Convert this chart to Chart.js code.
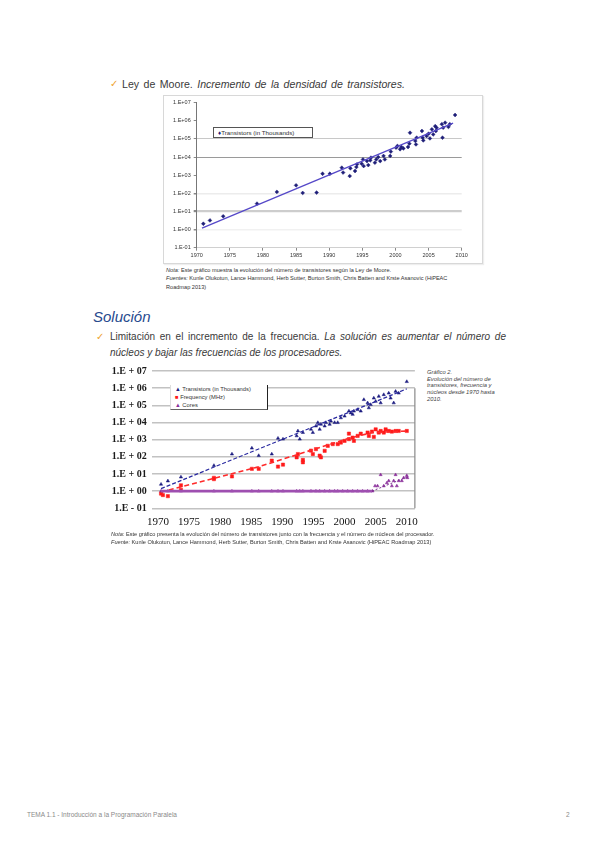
<!DOCTYPE html>
<html><head><meta charset="utf-8">
<script src="https://cdn.jsdelivr.net/npm/chart.js@4.4.1/dist/chart.umd.min.js"></script>
<style>
html,body{margin:0;padding:0;background:#fff;}
#page{position:relative;width:600px;height:848px;background:#fff;overflow:hidden;font-family:"Liberation Sans",Arial,sans-serif;color:#3a3a3a;}
.abs{position:absolute;white-space:nowrap;}
.chk{color:#eea22e;font-family:"DejaVu Sans",sans-serif;font-size:10px;font-weight:bold;}
.body{font-size:10px;}
.tiny{font-size:5.6px;line-height:8.4px;color:#333;}
canvas{position:absolute;}
</style></head>
<body><div id="page">
<div class="abs chk" style="left:110px;top:78px;">✓</div>
<div class="abs body" style="left:122px;top:78px;font-size:10.6px;width:283px;white-space:normal;text-align:justify;text-align-last:justify;">Ley de Moore. <i>Incremento de la densidad de transistores.</i></div>

<div class="abs" style="left:163px;top:95px;width:318px;height:167px;border:1px solid #d8d8d8;box-shadow:1px 1px 1px #eee;"></div>
<canvas id="c1" width="319" height="167" style="left:163px;top:95px;width:319px;height:167px;"></canvas>
<div class="abs" style="left:213px;top:127px;width:98px;height:9px;border:1px solid #555;background:#fff;font-size:6.2px;line-height:9px;color:#333;"><span style="color:#1e1e78;margin-left:4px;">♦</span>Transistors (in Thousands)</div>

<div class="abs tiny" style="left:166px;top:266px;"><i>Nota:</i> Este gráfico muestra la evolución del número de transistores según la Ley de Moore.<br><i>Fuentes:</i> Kunle Olukotun, Lance Hammond, Herb Sutter, Burton Smith, Chris Batten and Krste Asanovic (HiPEAC<br>Roadmap 2013)</div>

<div class="abs" style="left:93px;top:308px;font-size:15px;font-style:italic;color:#284a8e;">Solución</div>
<div class="abs chk" style="left:96px;top:331px;">✓</div>
<div class="abs body" style="left:110px;top:331px;width:396px;white-space:normal;text-align:justify;text-align-last:justify;">Limitación en el incremento de la frecuencia. <i>La solución es aumentar el número de</i></div>
<div class="abs body" style="left:110px;top:347px;"><i>núcleos y bajar las frecuencias de los procesadores.</i></div>

<canvas id="c2" width="325" height="172" style="left:100px;top:360px;width:325px;height:172px;"></canvas>
<div class="abs" style="left:170px;top:385px;width:96px;height:24px;border-right:1.5px solid #222;border-bottom:1px solid #666;border-left:1px solid #ddd;background:#fff;font-size:5.8px;line-height:8px;color:#333;">
<div style="margin-left:4px;"><span style="color:#1c1c80;">▲</span> Transistors (in Thousands)</div>
<div style="margin-left:4px;"><span style="color:#ff1a1a;">■</span> Frequency (MHz)</div>
<div style="margin-left:4px;"><span style="color:#8a2f9a;">▲</span> Cores</div>
</div>
<div class="abs" style="left:427px;top:369px;font-size:5.8px;line-height:6.7px;font-style:italic;color:#444;">Gráfico 2.<br>Evolución del número de<br>transistores, frecuencia y<br>núcleos desde 1970 hasta<br>2010.</div>

<div class="abs tiny" style="left:111px;top:530px;"><i>Nota:</i> Este gráfico presenta la evolución del número de transistores junto con la frecuencia y el número de núcleos del procesador.<br><i>Fuente:</i> Kunle Olukotun, Lance Hammond, Herb Sutter, Burton Smith, Chris Batten and Krste Asanovic (HiPEAC Roadmap 2013)</div>

<div class="abs" style="left:27px;top:811px;font-size:6.5px;color:#8a8a8a;">TEMA 1.1 - Introducción a la Programación Paralela</div>
<div class="abs" style="left:566px;top:811px;font-size:6.5px;color:#8a8a8a;">2</div>
</div>
<script>
// ---------- DATA ----------
const xTicks = [1970, 1975, 1980, 1985, 1990, 1995, 2000, 2005, 2010];
const xLabels = ['1970','1975','1980','1985','1990','1995','2000','2005','2010'];
const yTicks = [0.1, 1, 10, 100, 1e3, 1e4, 1e5, 1e6, 1e7];
const yLabels1 = ['1.E-01','1.E+00','1.E+01','1.E+02','1.E+03','1.E+04','1.E+05','1.E+06','1.E+07'];
const yLabels2 = ['1.E - 01','1.E + 00','1.E + 01','1.E + 02','1.E + 03','1.E + 04','1.E + 05','1.E + 06','1.E + 07'];

// Chart 1: transistors (thousands) [year, value]
const transistors1 = [
 [1971.0,2.1],[1972.0,3.2],[1974.0,5.4],[1979.1,27],[1982.1,120],[1985.0,275],[1986.0,105],[1988.1,110],
 [1989.0,1200],[1990.1,1200],[1991.9,2600],[1992.1,1400],[1993.1,900],[1993.2,2400],[1993.9,1700],[1994.1,2800],
 [1994.2,4000],[1994.9,4300],[1995.1,7400],[1995.2,3200],[1995.7,6000],[1995.9,3600],[1996.2,6600],[1996.3,9300],
 [1996.9,4900],[1997.1,7400],[1997.4,10000],[1997.7,6000],[1998.2,11500],[1998.4,7400],[1999.2,11500],[1999.3,20000],
 [2000.1,33000],[2000.3,41000],[2000.7,27000],[2000.9,36000],[2001.2,30000],[2001.9,36000],[2002.1,55000],[2002.2,220000],
 [2003.0,78000],[2003.1,50000],[2003.2,117000],[2004.0,275000],[2004.1,117000],[2004.2,83000],[2004.7,145000],[2005.0,195000],
 [2005.2,107000],[2005.5,340000],[2005.7,178000],[2006.0,510000],[2006.1,275000],[2006.2,417000],[2007.0,650000],[2007.1,117000],
 [2007.2,417000],[2007.5,790000],[2008.0,460000],[2008.2,650000],[2009.0,2100000]
];
const trend1 = [[1970.8,1.2],[2008.7,740000]];

// Chart 2
const transistors2 = [
 [1970.5,2.5],[1971.6,3.9],[1973.7,6.6],[1979.0,31],[1981.9,145],[1985.1,320],[1986.2,117],[1988.3,145],
 [1989.3,1200],[1990.1,1070],[1992.3,1660],[1992.5,3200],[1992.8,1070],[1993.3,2600],[1994.6,4000],[1994.9,2600],
 [1995.4,6200],[1995.7,9800],[1996.0,4000],[1996.2,7800],[1996.8,6200],[1997.0,9800],[1997.6,7800],[1997.8,12000],
 [1998.4,9800],[1998.9,9800],[1999.4,18600],[2000.0,23400],[2000.7,46000],[2001.0,36000],[2001.3,29500],[2001.5,46000],
 [2002.1,56000],[2002.6,46000],[2003.1,214000],[2003.7,138000],[2003.9,71000],[2004.2,110000],[2004.7,263000],[2005.0,170000],
 [2005.5,331000],[2005.8,138000],[2006.3,417000],[2007.1,513000],[2007.4,263000],[2007.9,138000],[2008.2,646000],[2008.7,513000],
 [2010.0,2400000]
];
const frequency2 = [
 [1970.5,0.72],[1970.8,0.59],[1971.6,0.51],[1973.7,2.2],[1973.7,1.2],[1979.0,6],[1979.0,5],[1981.9,7.2],
 [1985.1,20],[1986.2,20],[1988.3,60],[1989.3,27],[1990.1,35],[1992.3,93],[1992.5,145],[1993.3,66],
 [1993.3,48],[1994.6,230],[1994.9,145],[1995.4,280],[1996.0,117],[1996.2,93],[1996.8,224],[1997.3,437],
 [1998.1,550],[1998.9,550],[1999.4,676],[2000.0,850],[2000.7,2240],[2000.7,1070],[2001.3,1320],[2001.5,850],
 [2002.1,1660],[2002.6,2240],[2003.7,2600],[2003.9,1660],[2004.4,2950],[2004.7,1450],[2005.0,4000],[2005.5,2600],
 [2005.8,3200],[2006.3,2600],[2006.6,4000],[2007.1,3200],[2007.6,2950],[2008.2,3200],[2008.7,3200],[2010.0,3200]
];
const cores2 = [
 [1970.5,1],[1971.6,1],[1973.7,1],[1979.0,1],[1981.9,1],[1985.1,1],[1986.2,1],[1988.3,1],[1989.3,1],[1990.1,1],
 [1992.3,1],[1992.8,1],[1993.3,1],[1994.6,1],[1995.4,1],[1996.0,1],[1996.8,1],[1997.6,1],[1998.4,1],[1998.9,1],
 [1999.7,1],[2000.5,1],[2001.3,1],[2002.1,1],[2002.9,1],[2003.7,1],[2004.5,1],
 [2004.9,2],[2005.3,2],[2005.8,9],[2006.3,2],[2006.8,3],[2007.1,4],[2007.6,2],[2007.9,4],[2008.2,9],
 [2008.4,2],[2008.7,4],[2009.2,4],[2009.5,6],[2010.0,8],[2010.1,6]
];
const transTrend2 = [[1970.5,1.4],[2010.0,912000]];
const freqTrend2 = [[1970.5,0.9],[1986.0,25],[2000.7,1200],[2004.5,2600],[2010.2,3200]];
const coresFlat2 = [[1970.5,1],[2004.4,1]];
const coresRise2 = [[2004.4,1],[2010.2,7]];

// ---------- HELPERS ----------
const pts = a => a.map(p => ({x: p[0], y: p[1]}));
const setXTicks = s => { s.ticks = xTicks.map(v => ({value: v})); };
const setYTicks = s => { s.ticks = yTicks.map(v => ({value: v})); };

// ---------- CHART 1 ----------
const gridStyle1 = {1e5:['#c8c8c8',1], 1e4:['#9a9a9a',1], 100:['#ececec',1.5], 10:['#cdcdcd',2.2], 1:['#f1f1f1',1.5]};
new Chart(document.getElementById('c1'), {
  type: 'scatter',
  data: { datasets: [
    { data: pts(trend1), showLine: true, borderColor: '#5548c8', borderWidth: 1.3, pointRadius: 0 },
    { data: pts(transistors1), pointStyle: 'rectRot', pointRadius: 1.9, backgroundColor: '#1e1e78', borderColor: '#1e1e78', borderWidth: 0.5 }
  ]},
  options: {
    responsive: false, animation: false, events: [],
    layout: { padding: { left: 0, right: 20.3, top: 7.7, bottom: 0 } },
    plugins: { legend: { display: false }, tooltip: { enabled: false } },
    scales: {
      x: { type: 'linear', min: 1970, max: 2010, afterBuildTicks: setXTicks, afterFit: s => { s.height = 14.3; },
           ticks: { font: { size: 5.5, family: 'Liberation Sans' }, color: '#333', padding: 1, maxRotation: 0, callback: (v, i) => xLabels[i] },
           grid: { drawOnChartArea: false, drawTicks: true, tickLength: 3, color: '#888' },
           border: { display: true, color: '#d0d0d0' } },
      y: { type: 'logarithmic', min: 0.1, max: 1e7, afterBuildTicks: setYTicks, afterFit: s => { s.width = 33.7; },
           ticks: { font: { size: 5.5, family: 'Liberation Sans' }, color: '#333', padding: 3, callback: (v, i) => yLabels1[i] },
           grid: { tickLength: 3, tickColor: '#888',
                   color: c => (gridStyle1[c.tick && c.tick.value] || ['rgba(0,0,0,0)'])[0],
                   lineWidth: c => (gridStyle1[c.tick && c.tick.value] || [0,1])[1] },
           border: { display: true, color: '#777', width: 1 } }
    }
  }
});

// ---------- CHART 2 ----------
const rightBorder = { id: 'rightBorder', afterDatasetsDraw(c) {
  const {ctx, chartArea: a, scales: {y}} = c;
  ctx.save(); ctx.strokeStyle = '#8a8a8a'; ctx.lineWidth = 1.2;
  ctx.beginPath(); ctx.moveTo(a.right, y.getPixelForValue(1e6)); ctx.lineTo(a.right, a.bottom); ctx.stroke(); ctx.restore();
}};
new Chart(document.getElementById('c2'), {
  type: 'scatter',
  data: { datasets: [
    { data: pts(coresFlat2), showLine: true, borderColor: '#9e4fb0', borderWidth: 2.6, pointRadius: 0 },
    { data: pts(coresRise2), showLine: true, borderColor: '#7a3090', borderWidth: 1, borderDash: [2,2], pointRadius: 0 },
    { data: pts(freqTrend2), showLine: true, borderColor: '#ff2a2a', borderWidth: 1.6, borderDash: [5,3], pointRadius: 0 },
    { data: pts(transTrend2), showLine: true, borderColor: '#2a2aa0', borderWidth: 1.2, borderDash: [4,2], pointRadius: 0 },
    { data: pts(cores2), pointStyle: 'triangle', pointRadius: 1.8, backgroundColor: '#8a2f9a', borderColor: '#8a2f9a', borderWidth: 0.5 },
    { data: pts(frequency2), pointStyle: 'rect', pointRadius: 2.3, backgroundColor: '#ff1a1a', borderColor: '#ff1a1a', borderWidth: 0.5 },
    { data: pts(transistors2), pointStyle: 'triangle', pointRadius: 1.9, backgroundColor: '#1c1c80', borderColor: '#1c1c80', borderWidth: 0.5 }
  ]},
  options: {
    responsive: false, animation: false, events: [],
    layout: { padding: { left: 0, right: 7, top: 9.3, bottom: 0 } },
    plugins: { legend: { display: false }, tooltip: { enabled: false } },
    scales: {
      x: { type: 'linear', min: 1969, max: 2011.3, afterBuildTicks: setXTicks, afterFit: s => { s.height = 23.7; },
           ticks: { font: { size: 11, family: 'Liberation Serif' }, color: '#111', padding: 7, maxRotation: 0, callback: (v, i) => xLabels[i] },
           grid: { display: false, drawTicks: false }, border: { display: false } },
      y: { type: 'logarithmic', min: 0.1, max: 1e7, afterBuildTicks: setYTicks, afterFit: s => { s.width = 51.7; },
           ticks: { font: { size: 10, family: 'Liberation Serif', weight: 'bold' }, color: '#1a1a1a', padding: 5, callback: (v, i) => yLabels2[i] },
           grid: { color: '#c2c2c2', lineWidth: 1.4, drawTicks: false }, border: { display: false } }
    }
  },
  plugins: [rightBorder]
});
</script>
</body></html>
